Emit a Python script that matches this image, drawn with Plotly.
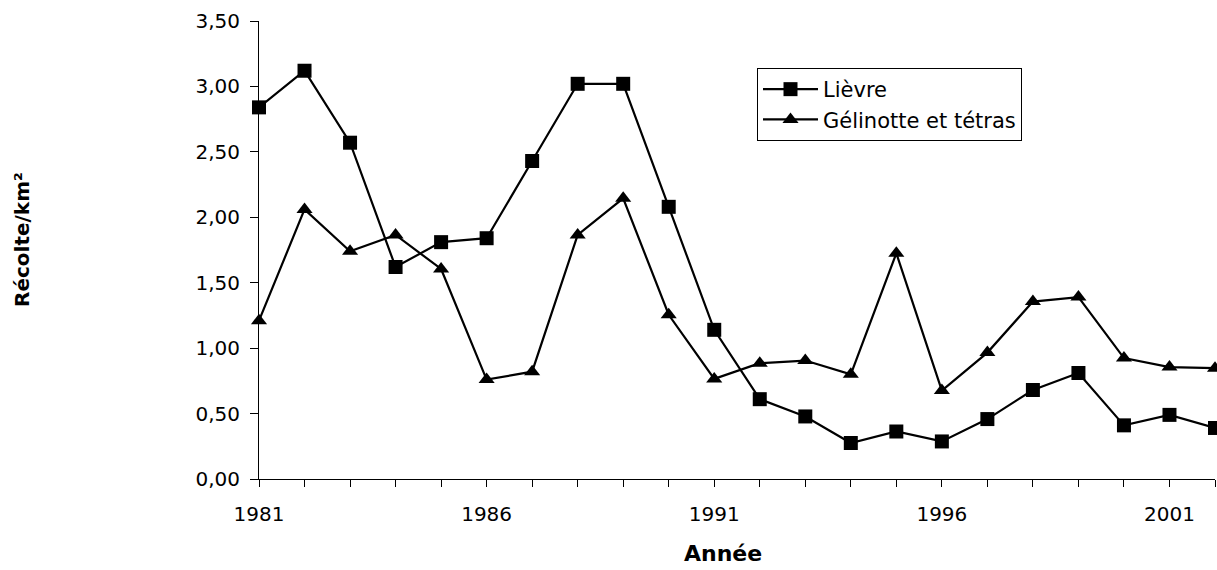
import plotly.graph_objects as go

years = list(range(1981, 2003))
lievre = [2.84, 3.12, 2.57, 1.62, 1.81, 1.84, 2.43, 3.02, 3.02, 2.08, 1.14,
          0.61, 0.478, 0.275, 0.363, 0.287, 0.458, 0.68, 0.81, 0.41, 0.49, 0.39]
gelinotte = [1.21, 2.06, 1.74, 1.865, 1.605, 0.76, 0.82, 1.865, 2.145, 1.255, 0.765,
             0.885, 0.905, 0.80, 1.725, 0.676, 0.966, 1.356, 1.39, 0.924, 0.855, 0.847]
tick_labels = [str(y) if (y - 1981) % 5 == 0 else "" for y in years]

FONT = "DejaVu Sans, Liberation Sans, Arial, sans-serif"

fig = go.Figure()
fig.add_trace(go.Scatter(x=years, y=lievre, mode="lines+markers", name="Lièvre",
                         line=dict(color="black", width=2.2),
                         marker=dict(symbol="square", size=14, color="black"),
                         cliponaxis=False))
fig.add_trace(go.Scatter(x=years, y=gelinotte, mode="lines+markers", name="Gélinotte et tétras",
                         line=dict(color="black", width=2.2),
                         marker=dict(symbol="triangle-up", size=14, color="black"),
                         cliponaxis=False))

W, H = 1217, 570
L, R, T, B = 259, 2, 21, 91
pw, ph = W - L - R, H - T - B

fig.update_layout(
    width=W, height=H,
    margin=dict(l=L, r=R, t=T, b=B),
    plot_bgcolor="white", paper_bgcolor="white",
    separators=", ",
    font=dict(family=FONT, size=20, color="black"),
    showlegend=True,
    legend=dict(x=(757 - L) / pw, y=(479.3 - 68.3) / ph, xanchor="left", yanchor="top",
                bordercolor="black", borderwidth=1, bgcolor="white",
                itemwidth=55,
                font=dict(size=21), tracegroupgap=0),
    xaxis=dict(range=[1981, 2002], tickvals=years, ticktext=tick_labels,
               showline=True, linecolor="black", linewidth=1,
               ticks="outside", ticklen=7, tickcolor="black",
               ticklabelstandoff=10,
               showgrid=False, zeroline=False),
    yaxis=dict(range=[0, 3.5], dtick=0.5, tickformat=".2f",
               showline=True, linecolor="black", linewidth=1,
               ticks="outside", ticklen=8, tickcolor="black",
               ticklabelstandoff=6,
               showgrid=False, zeroline=False),
    annotations=[
        dict(text="<b>Récolte/km²</b>", x=(22 - L) / pw, y=(H - B - 240) / ph,
             xref="paper", yref="paper", xanchor="center", yanchor="middle",
             showarrow=False, textangle=-90, font=dict(size=20)),
        dict(text="<b>Année</b>", x=(723 - L) / pw, y=(H - B - 553) / ph,
             xref="paper", yref="paper", xanchor="center", yanchor="middle",
             showarrow=False, font=dict(size=22)),
    ],
)

fig.write_html("out.html", config={"displayModeBar": False},
               post_script="document.body.style.margin='0';")
